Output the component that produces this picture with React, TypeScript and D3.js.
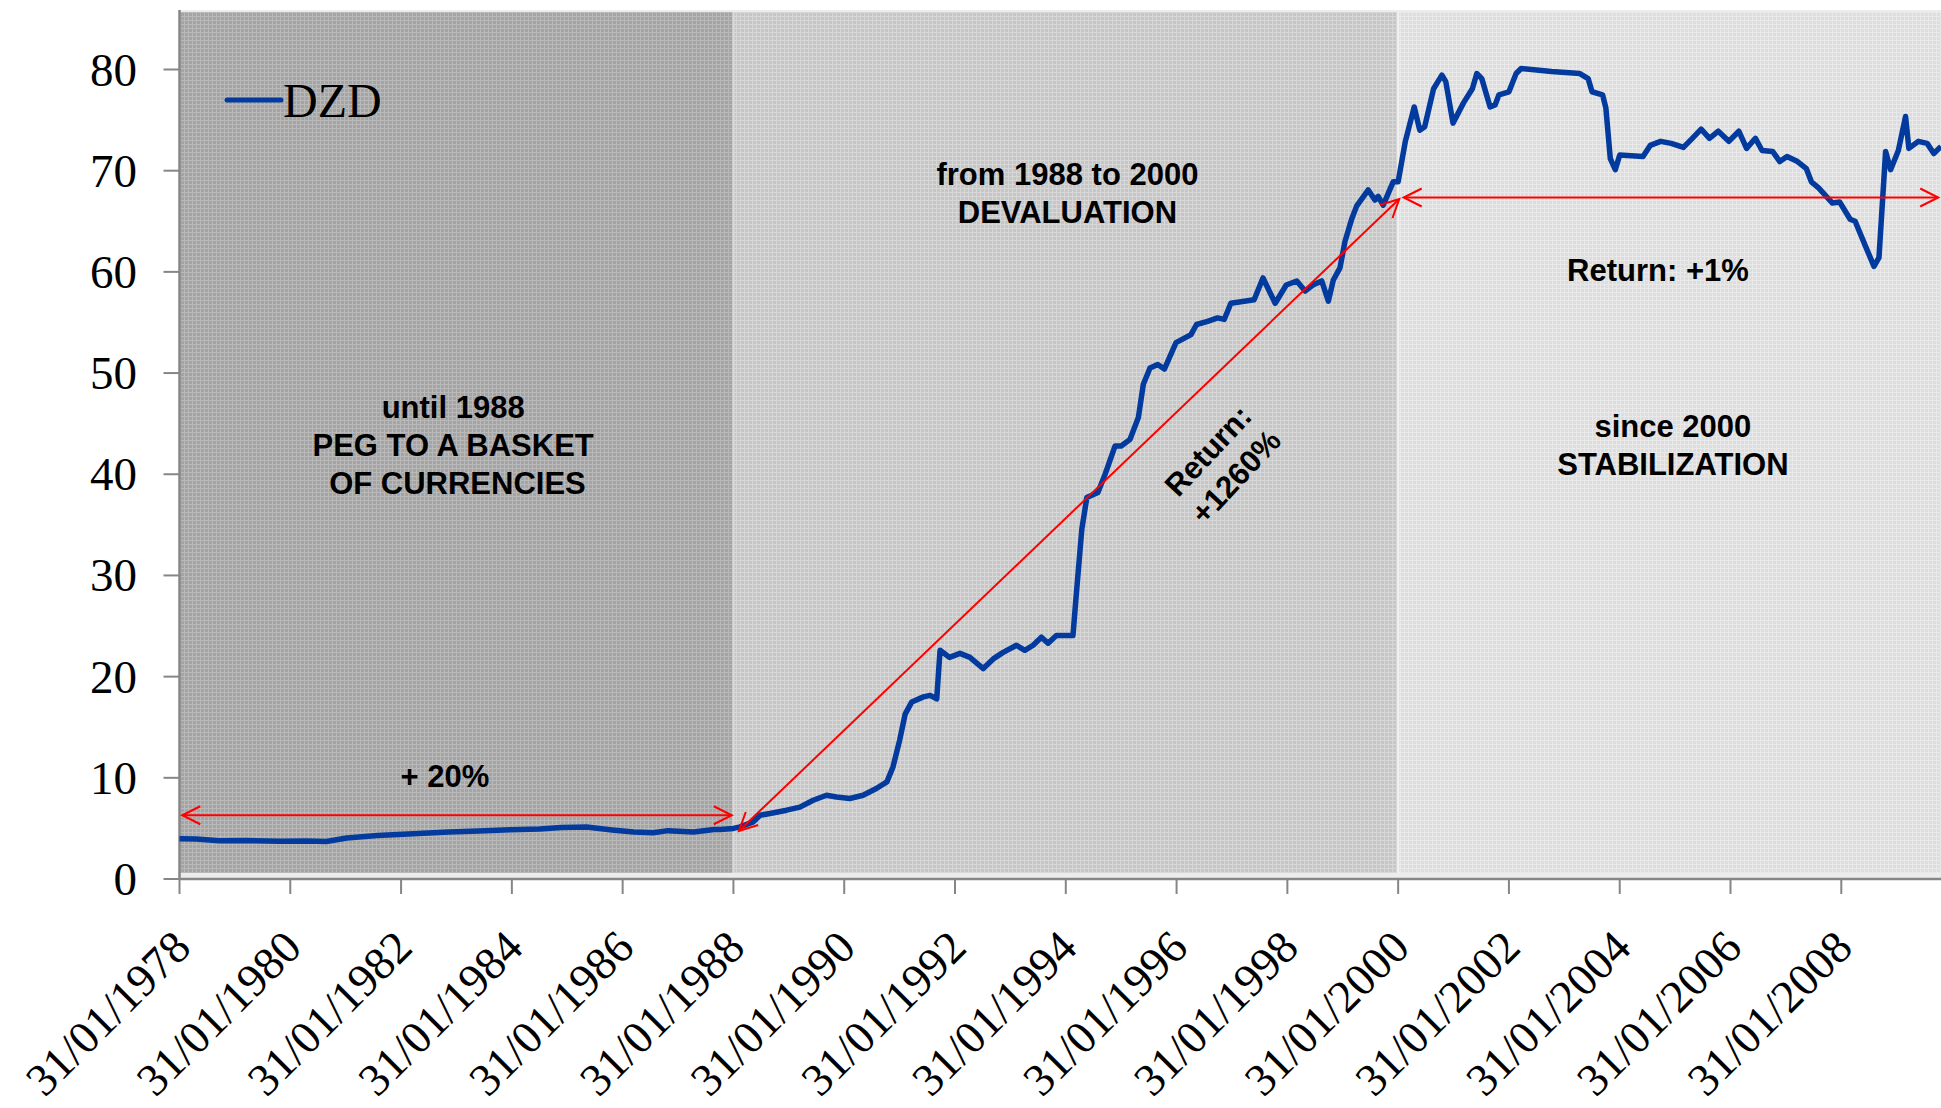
import React from 'react';
import * as d3 from 'd3';

// ---- data (decimal years, 1978.0 = 31/01/1978) ----
const years: number[] = [
  1978.0, 1978.3, 1978.72, 1979.2, 1979.82, 1980.3, 1980.65, 1981.02, 1981.57, 1982.13,
  1982.86, 1983.4, 1983.97, 1984.5, 1984.89, 1985.35, 1985.81, 1986.2, 1986.55, 1986.82,
  1987.28, 1987.65, 1987.76, 1988.0, 1988.12, 1988.36, 1988.48, 1988.66, 1988.96, 1989.2,
  1989.44, 1989.68, 1989.86, 1990.1, 1990.34, 1990.58, 1990.77, 1990.88, 1991.0, 1991.1,
  1991.22, 1991.43, 1991.55, 1991.67, 1991.73, 1991.9, 1992.09, 1992.27, 1992.51, 1992.69,
  1992.87, 1993.11, 1993.26, 1993.41, 1993.56, 1993.68, 1993.83, 1994.13, 1994.18, 1994.29,
  1994.38, 1994.58, 1994.71, 1994.89, 1995.0, 1995.16, 1995.31, 1995.4, 1995.52, 1995.66,
  1995.78, 1995.99, 1996.26, 1996.36, 1996.56, 1996.74, 1996.86, 1996.98, 1997.4, 1997.56,
  1997.78, 1997.98, 1998.17, 1998.32, 1998.46, 1998.62, 1998.74, 1998.83, 1998.95, 1999.04,
  1999.16, 1999.25, 1999.46, 1999.58, 1999.64, 1999.73, 1999.91, 2000.0, 2000.13, 2000.29,
  2000.39, 2000.48, 2000.64, 2000.79, 2000.86, 2000.99, 2001.18, 2001.34, 2001.42, 2001.51,
  2001.66, 2001.75, 2001.82, 2002.0, 2002.13, 2002.22, 2002.77, 2003.28, 2003.43, 2003.5,
  2003.69, 2003.75, 2003.83, 2003.92, 2004.0, 2004.42, 2004.55, 2004.74, 2004.93, 2005.15,
  2005.31, 2005.47, 2005.62, 2005.78, 2005.97, 2006.15, 2006.29, 2006.45, 2006.57, 2006.76,
  2006.89, 2007.02, 2007.21, 2007.37, 2007.46, 2007.59, 2007.84, 2007.97, 2008.16, 2008.25,
  2008.44, 2008.59, 2008.68, 2008.8, 2008.89, 2009.03, 2009.16, 2009.22, 2009.39, 2009.55,
  2009.67, 2009.8,
];
const dzd: number[] = [
  3.97, 3.95, 3.78, 3.8, 3.74, 3.75, 3.7, 4.05, 4.3, 4.45,
  4.65, 4.75, 4.87, 4.95, 5.1, 5.13, 4.85, 4.65, 4.57, 4.78,
  4.64, 4.9, 4.9, 5.0, 5.15, 5.65, 6.3, 6.48, 6.8, 7.1,
  7.78, 8.28, 8.1, 7.96, 8.28, 8.94, 9.6, 11.07, 13.7, 16.3,
  17.5, 18.0, 18.15, 17.8, 22.6, 21.9, 22.3, 21.9, 20.8, 21.75,
  22.4, 23.1, 22.6, 23.1, 23.9, 23.3, 24.06, 24.06, 27.5, 34.6,
  37.7, 38.2, 40.0, 42.8, 42.8, 43.45, 45.6, 48.9, 50.5, 50.85,
  50.4, 53.0, 53.8, 54.8, 55.1, 55.45, 55.3, 56.9, 57.25, 59.4,
  56.9, 58.7, 59.1, 58.1, 58.7, 59.1, 57.1, 59.2, 60.4, 63.0,
  65.2, 66.5, 68.1, 67.1, 67.45, 66.6, 68.9, 68.9, 72.9, 76.3,
  74.0, 74.35, 78.1, 79.45, 78.8, 74.7, 76.7, 78.1, 79.6, 79.1,
  76.3, 76.5, 77.5, 77.8, 79.6, 80.1, 79.8, 79.6, 79.1, 77.8,
  77.5, 76.2, 71.2, 70.1, 71.55, 71.4, 72.5, 72.9, 72.7, 72.3,
  73.2, 74.1, 73.2, 73.9, 72.9, 73.9, 72.2, 73.2, 72.0, 71.9,
  70.9, 71.4, 70.9, 70.2, 68.9, 68.3, 66.8, 66.9, 65.2, 65.0,
  62.5, 60.55, 61.4, 71.9, 70.1, 72.0, 75.35, 72.2, 72.9, 72.7,
  71.7, 72.4,
];
const seriesName = 'DZD';
const xTickYears: number[] = [1978, 1980, 1982, 1984, 1986, 1988, 1990, 1992, 1994, 1996, 1998, 2000, 2002, 2004, 2006, 2008];
const yTickValues: number[] = [0, 10, 20, 30, 40, 50, 60, 70, 80];
const regionStarts: number[] = [1978, 1988, 2000];
const regionEnds: number[] = [1988, 2000, 2009.8];

// annotations in data coordinates [year, value]
const arrowPeg: [number, number][] = [[1978.05, 6.3], [1987.97, 6.3]];
const arrowDeval: [number, number][] = [[1988.1, 4.75], [2000.02, 67.2]];
const arrowStab: [number, number][] = [[2000.1, 67.35], [2009.75, 67.35]];
const pegLines: string[] = ['until 1988', 'PEG TO A BASKET', ' OF CURRENCIES'];
const devalLines: string[] = ['from 1988 to 2000', 'DEVALUATION'];
const stabLines: string[] = ['since 2000', 'STABILIZATION'];
const pegReturn = '+ 20%';
const stabReturn = 'Return: +1%';
const devalReturn: string[] = ['Return:', '+1260%'];

// ---- layout ----
const W = 1941;
const H = 1108;
const X0 = 179.5;
const XR = 1941;
const Y0 = 879;
const Y80 = 69.5;
const PLOT_TOP = 12;
const SERIF = '"Liberation Serif", "Times New Roman", serif';
const SANS = '"Liberation Sans", Arial, sans-serif';
const RED = '#ff0000';
const BLUE = '#033a9e';

export default function App() {
  const x = d3.scaleLinear().domain([1978, 2009.8]).range([X0, XR]);
  const y = d3.scaleLinear().domain([0, 80]).range([Y0, Y80]);
  const data = years.map((yr, i) => [yr, dzd[i]] as [number, number]);
  const line = d3.line<[number, number]>().x(d => x(d[0])).y(d => y(d[1]));
  const seg = d3.line<[number, number]>().x(d => x(d[0])).y(d => y(d[1]));
  const patterns = ['patDark', 'patMed', 'patLight'];
  const lineH = 38;

  const blockText = (lines: string[], cx: number, baseY: number, key: string) => (
    <text key={key} fontFamily={SANS} fontWeight="bold" fontSize={31} fill="#000" textAnchor="middle" style={{ whiteSpace: 'pre' }}>
      {lines.map((l, i) => (
        <tspan key={i} x={cx} y={baseY + i * lineH}>{l}</tspan>
      ))}
    </text>
  );

  return (
    <svg width={W} height={H} style={{ position: 'absolute', left: 0, top: 0, background: '#fff' }}>
      <defs>
        <pattern id="patDark" width={4} height={4} patternUnits="userSpaceOnUse">
          <rect width={4} height={4} fill="#a4a4a4" />
          <rect width={4} height={1} fill="#b9b9b9" />
          <rect width={1} height={4} fill="#b9b9b9" />
        </pattern>
        <pattern id="patMed" width={4} height={4} patternUnits="userSpaceOnUse">
          <rect width={4} height={4} fill="#c6c6c6" />
          <rect width={4} height={1} fill="#d7d7d7" />
          <rect width={1} height={4} fill="#d7d7d7" />
        </pattern>
        <pattern id="patLight" width={4} height={4} patternUnits="userSpaceOnUse">
          <rect width={4} height={4} fill="#dddddd" />
          <rect width={4} height={1} fill="#e9e9e9" />
          <rect width={1} height={4} fill="#e9e9e9" />
        </pattern>
        <marker id="openArrow" markerUnits="userSpaceOnUse" markerWidth={24} markerHeight={24}
          viewBox="-20 -12 22 24" refX={0} refY={0} orient="auto-start-reverse">
          <path d="M-18,-9 L0,0 L-18,9" fill="none" stroke={RED} strokeWidth={2} />
        </marker>
      </defs>

      {/* plot background regions */}
      <rect x={X0} y={PLOT_TOP - 2} width={XR - X0} height={Y0 - PLOT_TOP + 2} fill="#ececec" />
      {regionStarts.map((s, i) => (
        <rect key={i} x={x(s)} y={PLOT_TOP} width={x(regionEnds[i]) - x(s)} height={Y0 - 6 - PLOT_TOP}
          fill={`url(#${patterns[i]})`} />
      ))}
      <line x1={x(1988)} x2={x(1988)} y1={PLOT_TOP} y2={Y0 - 6} stroke="#dadada" strokeWidth={2} />
      <line x1={x(2000)} x2={x(2000)} y1={PLOT_TOP} y2={Y0 - 6} stroke="#f2f2f2" strokeWidth={2} />

      {/* axes */}
      <line x1={X0} x2={X0} y1={PLOT_TOP - 2} y2={Y0} stroke="#868686" strokeWidth={2.5} />
      <line x1={X0} x2={XR} y1={Y0} y2={Y0} stroke="#868686" strokeWidth={2.5} />
      {yTickValues.map(v => (
        <g key={v}>
          <line x1={X0 - 16} x2={X0} y1={y(v)} y2={y(v)} stroke="#868686" strokeWidth={2} />
          <text x={137} y={y(v) + 16} textAnchor="end" fontFamily={SERIF} fontSize={47} fill="#000">{v}</text>
        </g>
      ))}
      {xTickYears.map(t => (
        <g key={t}>
          <line x1={x(t)} x2={x(t)} y1={Y0} y2={Y0 + 15} stroke="#868686" strokeWidth={2} />
          <text transform={`translate(${x(t) + 13.5},${Y0 + 71}) rotate(-45)`} textAnchor="end"
            fontFamily={SERIF} fontSize={46} fill="#000">{`31/01/${t}`}</text>
        </g>
      ))}

      {/* series */}
      <path d={line(data) || ''} fill="none" stroke={BLUE} strokeWidth={5.5} strokeLinejoin="round" />

      {/* arrows */}
      {[arrowPeg, arrowDeval, arrowStab].map((a, i) => (
        <path key={i} d={seg(a) || ''} fill="none" stroke={RED} strokeWidth={2}
          markerStart="url(#openArrow)" markerEnd="url(#openArrow)" />
      ))}

      {/* annotation texts */}
      {blockText(pegLines, x(1982.94), y(45.55), 'peg')}
      {blockText([pegReturn], x(1982.79), y(9.1), 'pegret')}
      {blockText(devalLines, x(1994.03), y(68.58), 'deval')}
      {blockText([stabReturn], x(2004.69), y(59.09), 'stabret')}
      {blockText(stabLines, x(2004.96), y(43.68), 'stab')}
      <g transform={`translate(${x(1996.71)},${y(41.6)}) rotate(-47)`}>
        {devalReturn.map((l, i) => (
          <text key={i} x={0} y={i * lineH} textAnchor="middle" fontFamily={SANS} fontWeight="bold" fontSize={31} fill="#000">{l}</text>
        ))}
      </g>

      {/* legend */}
      <line x1={227} x2={281} y1={100} y2={100} stroke={BLUE} strokeWidth={5} strokeLinecap="round" />
      <text x={283} y={117} fontFamily={SERIF} fontSize={48} fill="#000">{seriesName}</text>
    </svg>
  );
}
